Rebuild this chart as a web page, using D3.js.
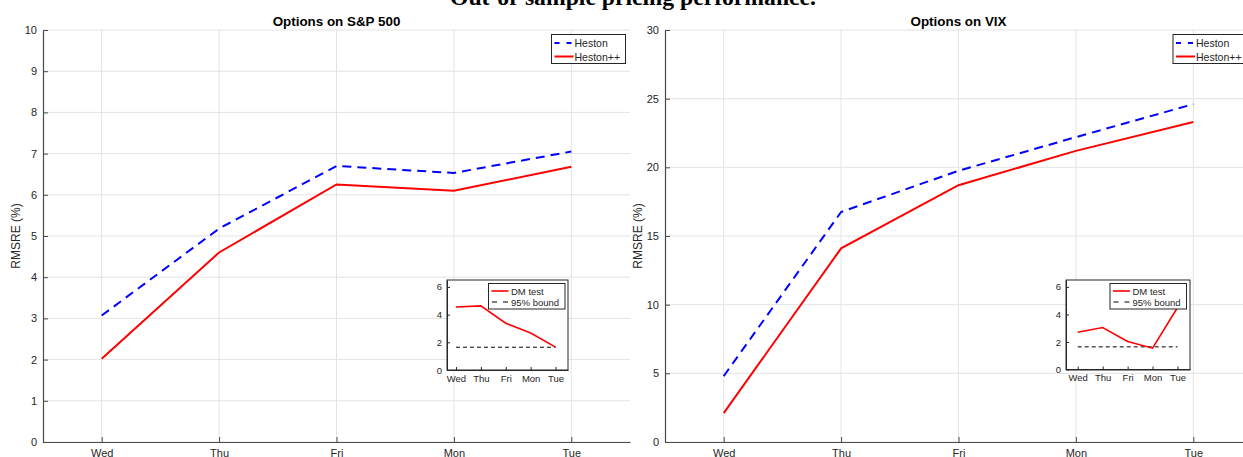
<!DOCTYPE html>
<html>
<head>
<meta charset="utf-8">
<script src="https://cdn.jsdelivr.net/npm/d3@7"></script>
<style>
  html, body { margin: 0; padding: 0; background: #fff; }
  svg { display: block; font-family: "Liberation Sans", Arial, sans-serif; }
</style>
</head>
<body>
<svg id="chart" width="1243" height="457"></svg>
<script>
// Trading days on the horizontal axis
const days = ["Wed", "Thu", "Fri", "Mon", "Tue"];

// Out-of-sample RMSRE (%) for S&P 500 options
const spxHeston   = [3.07, 5.18, 6.70, 6.53, 7.05];
const spxHestonPP = [2.02, 4.60, 6.25, 6.10, 6.68];
const spxYTicks   = [0, 1, 2, 3, 4, 5, 6, 7, 8, 9, 10];

// Out-of-sample RMSRE (%) for VIX options
const vixHeston   = [4.80, 16.75, 19.75, 22.20, 24.60];
const vixHestonPP = [2.10, 14.10, 18.70, 21.20, 23.30];
const vixYTicks   = [0, 5, 10, 15, 20, 25, 30];

// Diebold-Mariano statistics and the one-sided 95% critical value
const spxDM = [4.55, 4.63, 3.38, 2.67, 1.65];
const vixDM = [2.70, 3.05, 2.03, 1.55, 4.50];
const dmBound = 1.645;
const dmYTicks = [0, 2, 4, 6];

const svg = d3.select("#chart");
const axisColor = "#4a4a4a";
const textColor = "#262626";
const gridColor = "#e3e3e3";

// Super title, sized to span the figure's centre
const sup = svg.append("text")
  .attr("x", 633).attr("y", 4.5)
  .attr("text-anchor", "middle")
  .style("font-family", "'Liberation Serif', 'Times New Roman', serif")
  .style("font-weight", "bold")
  .style("font-size", "21px")
  .attr("fill", "#000")
  .text("Out-of-sample pricing performance.");
const supLen = sup.node().getComputedTextLength();
sup.style("font-size", (21 * 366 / supLen).toFixed(2) + "px");

function drawPanel(p) {
  const g = svg.append("g");
  const x = d3.scaleLinear().domain([0.5, 5.5]).range([p.left, p.left + 587]);
  const y = d3.scaleLinear().domain(p.yDomain).range([442, 30]);

  // grid
  g.append("g").selectAll("line").data(p.yTicks).join("line")
    .attr("x1", p.left).attr("x2", p.left + 587)
    .attr("y1", d => y(d)).attr("y2", d => y(d))
    .attr("stroke", gridColor).attr("stroke-width", 1);
  g.append("g").selectAll("line").data(days).join("line")
    .attr("x1", (d, i) => x(i + 1)).attr("x2", (d, i) => x(i + 1))
    .attr("y1", 30).attr("y2", 442)
    .attr("stroke", gridColor).attr("stroke-width", 1);

  // axes (ticks pointing inward)
  const yAxis = d3.axisLeft(y).tickValues(p.yTicks).tickSize(-5).tickPadding(10).tickSizeOuter(0);
  const ya = g.append("g").attr("transform", `translate(${p.left},0)`).call(yAxis);
  const xAxis = d3.axisBottom(x).tickValues([1, 2, 3, 4, 5])
    .tickFormat(d => days[d - 1]).tickSize(-5).tickPadding(10).tickSizeOuter(0);
  const xa = g.append("g").attr("transform", "translate(0,442)").call(xAxis);
  [ya, xa].forEach(a => {
    a.select(".domain").attr("stroke", axisColor).attr("stroke-width", 1.2);
    a.selectAll(".tick line").attr("stroke", axisColor).attr("stroke-width", 1);
    a.selectAll(".tick text").attr("fill", textColor).style("font-size", "11px");
  });
  ya.selectAll(".tick text").attr("x", -6);
  xa.selectAll(".tick text").attr("dy", "0.71em").attr("y", 7);

  // y label
  g.append("text")
    .attr("transform", `translate(${p.left - 23},236) rotate(-90)`)
    .attr("text-anchor", "middle")
    .attr("fill", textColor)
    .style("font-size", "12px")
    .text("RMSRE (%)");

  // panel title
  g.append("text")
    .attr("x", p.left + 293.5).attr("y", 26)
    .attr("text-anchor", "middle")
    .attr("fill", "#000")
    .style("font-weight", "bold").style("font-size", "13.4px")
    .text(p.title);

  const line = d3.line().x((d, i) => x(i + 1)).y(d => y(d));
  g.append("path").datum(p.heston).attr("d", line)
    .attr("fill", "none").attr("stroke", "#0000ff").attr("stroke-width", 2)
    .attr("stroke-dasharray", "9,6");
  g.append("path").datum(p.hestonPP).attr("d", line)
    .attr("fill", "none").attr("stroke", "#ff0000").attr("stroke-width", 2);

  // legend
  const lg = g.append("g").attr("transform", `translate(${p.legendX},34.5)`);
  lg.append("rect").attr("width", 74).attr("height", 29)
    .attr("fill", "#fff").attr("stroke", "#262626").attr("stroke-width", 1);
  lg.append("line").attr("x1", 3).attr("x2", 22).attr("y1", 8.5).attr("y2", 8.5)
    .attr("stroke", "#0000ff").attr("stroke-width", 2).attr("stroke-dasharray", "5,7");
  lg.append("line").attr("x1", 3).attr("x2", 22).attr("y1", 22).attr("y2", 22)
    .attr("stroke", "#ff0000").attr("stroke-width", 2);
  lg.append("text").attr("x", 23).attr("y", 12.5).attr("fill", textColor)
    .style("font-size", "10.5px").text("Heston");
  lg.append("text").attr("x", 23).attr("y", 26).attr("fill", textColor)
    .style("font-size", "10.5px").text("Heston++");

  // inset: Diebold-Mariano test
  const ins = p.inset;
  const ix = d3.scaleLinear().domain(ins.xDomain).range([ins.x0, ins.x1]);
  const iy = d3.scaleLinear().domain([0, 6.5]).range([ins.y1, ins.y0]);
  const ig = g.append("g");
  ig.append("rect").attr("x", ins.x0).attr("y", ins.y0)
    .attr("width", ins.x1 - ins.x0).attr("height", ins.y1 - ins.y0)
    .attr("fill", "#fff").attr("stroke", "#262626").attr("stroke-width", 1);
  const iya = ig.append("g").attr("transform", `translate(${ins.x0},0)`)
    .call(d3.axisLeft(iy).tickValues(dmYTicks).tickFormat(d3.format("d"))
      .tickSize(-3).tickPadding(5).tickSizeOuter(0));
  const ixa = ig.append("g").attr("transform", `translate(0,${ins.y1})`)
    .call(d3.axisBottom(ix).tickValues([1, 2, 3, 4, 5]).tickFormat(d => days[d - 1])
      .tickSize(-3).tickPadding(5).tickSizeOuter(0));
  [iya, ixa].forEach(a => {
    a.select(".domain").attr("stroke", "#262626");
    a.selectAll(".tick line").attr("stroke", "#262626");
    a.selectAll(".tick text").attr("fill", textColor).style("font-size", "9.5px");
  });
  const iline = d3.line().x((d, i) => ix(i + 1)).y(d => iy(d));
  ig.append("path").datum(days.map(() => dmBound)).attr("d", iline)
    .attr("fill", "none").attr("stroke", "#000").attr("stroke-width", 1)
    .attr("stroke-dasharray", "4,3");
  ig.append("path").datum(ins.dm).attr("d", iline)
    .attr("fill", "none").attr("stroke", "#ff0000").attr("stroke-width", 1.6);

  const il = ig.append("g").attr("transform", `translate(${ins.legX},283.5)`);
  il.append("rect").attr("width", 76.5).attr("height", 25.5)
    .attr("fill", "#fff").attr("stroke", "#262626").attr("stroke-width", 1);
  il.append("line").attr("x1", 3).attr("x2", 20).attr("y1", 7.5).attr("y2", 7.5)
    .attr("stroke", "#ff0000").attr("stroke-width", 1.6);
  il.append("line").attr("x1", 3.5).attr("x2", 20).attr("y1", 18.5).attr("y2", 18.5)
    .attr("stroke", "#000").attr("stroke-width", 1).attr("stroke-dasharray", "5,6");
  il.append("text").attr("x", 22.5).attr("y", 11).attr("fill", textColor)
    .style("font-size", "9.5px").text("DM test");
  il.append("text").attr("x", 22.5).attr("y", 22).attr("fill", textColor)
    .style("font-size", "9.5px").text("95% bound");
}

drawPanel({
  left: 43, yDomain: [0, 10], yTicks: spxYTicks, title: "Options on S&P 500",
  heston: spxHeston, hestonPP: spxHestonPP, legendX: 551.5,
  inset: { x0: 447, x1: 568, y0: 280, y1: 370, xDomain: [0.64, 5.5], dm: spxDM, legX: 488.5 }
});

drawPanel({
  left: 665, yDomain: [0, 30], yTicks: vixYTicks, title: "Options on VIX",
  heston: vixHeston, hestonPP: vixHestonPP, legendX: 1173,
  inset: { x0: 1066, x1: 1190, y0: 280, y1: 369.5, xDomain: [0.53, 5.5], dm: vixDM, legX: 1110 }
});
</script>
</body>
</html>
